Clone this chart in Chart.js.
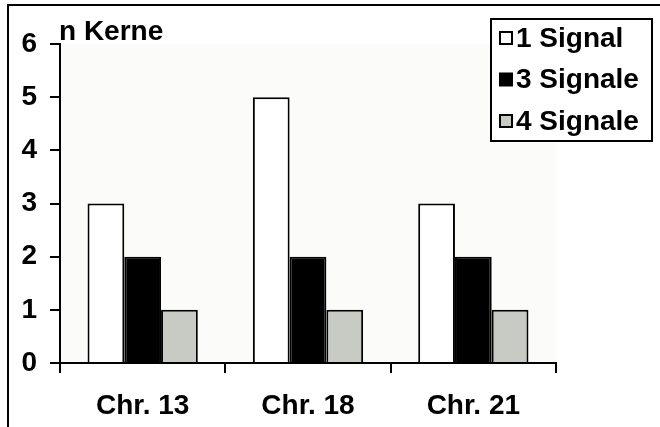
<!DOCTYPE html>
<html>
<head>
<meta charset="utf-8">
<style>
  html, body { margin: 0; padding: 0; background: #fff; }
  #wrap { width: 660px; height: 427px; position: relative; }
</style>
<script src="https://cdn.jsdelivr.net/npm/chart.js@4/dist/chart.umd.min.js"></script>
</head>
<body>
<div id="wrap"><canvas id="c" width="660" height="427"></canvas></div>
<script>
// Chromosomes examined
const categories = ['Chr. 13', 'Chr. 18', 'Chr. 21'];
// Number of nuclei per signal count
const oneSignal = [3, 5, 3];
const threeSignals = [2, 2, 2];
const fourSignals = [1, 1, 1];
const seriesNames = ['1 Signal', '3 Signale', '4 Signale'];
const yTicks = [0, 1, 2, 3, 4, 5, 6];

const FONT = '"Liberation Sans", Arial, Helvetica, sans-serif';

// Frame, plot background and axis caption
const decorations = {
  id: 'decorations',
  beforeDraw(chart) {
    const { ctx, chartArea: a } = chart;
    ctx.save();
    ctx.fillStyle = '#fbfbf9';
    ctx.fillRect(a.left, a.top, a.right - a.left, a.bottom - a.top);
    ctx.strokeStyle = '#000';
    ctx.lineWidth = 2;
    ctx.beginPath();
    ctx.moveTo(8, 440);
    ctx.lineTo(8, 5);
    ctx.lineTo(670, 5);
    ctx.stroke();
    ctx.restore();
  },
  afterDraw(chart) {
    const { ctx, chartArea: a } = chart;
    ctx.save();
    ctx.fillStyle = '#000';
    ctx.font = 'bold 28px ' + FONT;
    ctx.textBaseline = 'alphabetic';
    ctx.textAlign = 'left';
    ctx.fillText('n Kerne', a.left - 1, 40);
    ctx.restore();
  }
};

// Boxed legend in the upper right corner
const boxLegend = {
  id: 'boxLegend',
  afterDraw(chart) {
    const { ctx } = chart;
    const x = 491, y = 19, w = 161, h = 122;
    ctx.save();
    ctx.fillStyle = '#fff';
    ctx.fillRect(x, y, w, h);
    ctx.strokeStyle = '#000';
    ctx.lineWidth = 2;
    ctx.strokeRect(x, y, w, h);
    ctx.font = 'bold 28px ' + FONT;
    ctx.textBaseline = 'middle';
    ctx.textAlign = 'left';
    chart.data.datasets.forEach((ds, i) => {
      const cy = 38 + i * 41.5;
      ctx.fillStyle = ds.backgroundColor;
      ctx.fillRect(500, cy - 6, 12, 12);
      ctx.lineWidth = 2;
      ctx.strokeStyle = '#000';
      ctx.strokeRect(500, cy - 6, 12, 12);
      ctx.fillStyle = '#000';
      ctx.fillText(ds.label, 516, cy + 1);
    });
    ctx.restore();
  }
};

const barStyle = { borderColor: '#000', borderWidth: 2, borderSkipped: 'bottom' };

new Chart(document.getElementById('c'), {
  type: 'bar',
  data: {
    labels: categories,
    datasets: [
      { label: seriesNames[0], data: oneSignal, backgroundColor: '#ffffff', ...barStyle },
      { label: seriesNames[1], data: threeSignals, backgroundColor: '#000000', ...barStyle },
      { label: seriesNames[2], data: fourSignals, backgroundColor: '#c8cbc4', ...barStyle }
    ]
  },
  options: {
    responsive: false,
    animation: false,
    devicePixelRatio: 1,
    layout: { padding: { top: 44, right: 104, left: 0, bottom: 0 } },
    plugins: { legend: { display: false }, tooltip: { enabled: false } },
    datasets: { bar: { categoryPercentage: 0.667, barPercentage: 1 } },
    scales: {
      x: {
        offset: true,
        grid: { offset: true, drawOnChartArea: false, drawTicks: true, tickLength: 10, color: '#000', lineWidth: 2 },
        border: { display: true, color: '#000', width: 2 },
        ticks: { color: '#000', font: { family: FONT, size: 28, weight: 'bold' }, padding: 16, maxRotation: 0 },
        afterFit(s) { s.height = 64; }
      },
      y: {
        min: 0, max: 6,
        afterBuildTicks(s) { s.ticks = yTicks.map(v => ({ value: v })); },
        grid: { drawOnChartArea: false, drawTicks: true, tickLength: 10, color: '#000', lineWidth: 2 },
        border: { display: true, color: '#000', width: 2 },
        ticks: { color: '#000', font: { family: FONT, size: 28, weight: 'bold' }, padding: 13 },
        afterFit(s) { s.width = 60; }
      }
    }
  },
  plugins: [decorations, boxLegend]
});
</script>
</body>
</html>
